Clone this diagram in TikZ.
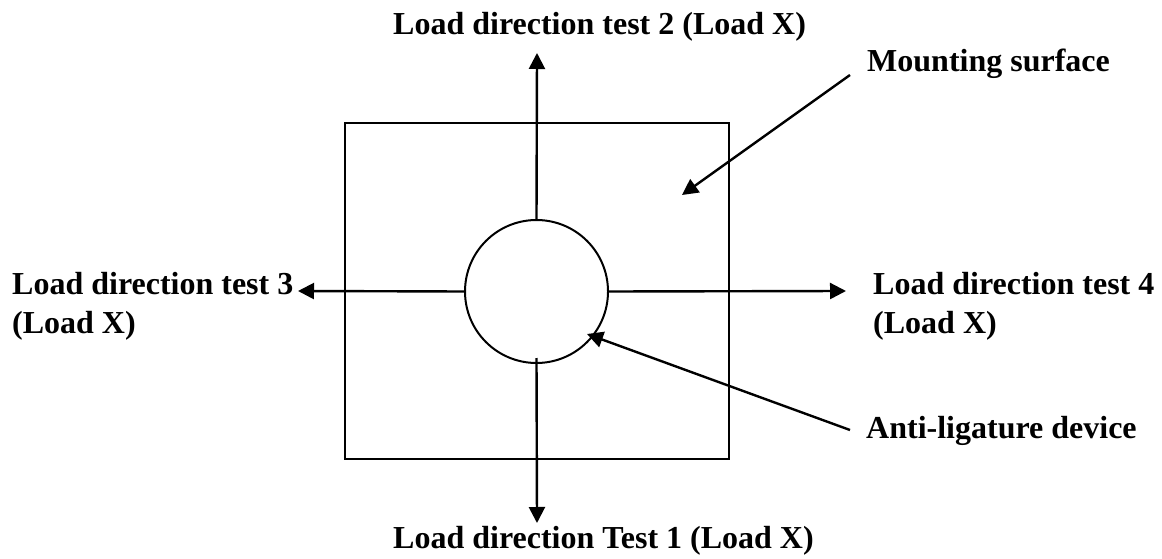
\documentclass[tikz,border=0pt]{standalone}
\usepackage{fontspec}
\setmainfont{Liberation Serif}
\usetikzlibrary{arrows.meta}
\begin{document}
\begin{tikzpicture}[x=1pt,y=-1pt,
  lbl/.style={font=\fontsize{32}{38}\selectfont\bfseries, inner sep=0pt, anchor=base west},
  arr/.style={line width=2.4pt, -{Triangle[length=16pt,width=16pt]}}]
\useasboundingbox (0,0) rectangle (1162,559);
% mounting surface
\node[draw, line width=2.4pt, minimum width=384pt, minimum height=336pt, inner sep=0pt] (surf) at (537,291) {};
% device
\node[draw, circle, line width=2pt, minimum size=143pt, inner sep=0pt] (dev) at (536.5,291.5) {};
% labels
\node[lbl] (t2) at (393,35) {Load direction test 2 (Load X)};
\node[lbl] (ms) at (867,72) {Mounting surface};
\node[lbl] (t3a) at (12,294) {Load direction test 3};
\node[lbl] (t3b) at (12,333) {(Load X)};
\node[lbl] (t4a) at (873,294) {Load direction test 4};
\node[lbl] (t4b) at (873,333) {(Load X)};
\node[lbl] (ad) at (866,438) {Anti-ligature device};
\node[lbl] (t1) at (393,548) {Load direction Test 1 (Load X)};
% arrow ends
\coordinate (up) at (537,53);
\coordinate (down) at (537,523);
\coordinate (left) at (298,291);
\coordinate (right) at (846,291);
\coordinate (msS) at (850,75);
\coordinate (msE) at (682,195);
\coordinate (adS) at (850,430);
\coordinate (adE) at (587,334);
\draw[arr] (dev.north) -- (up);
\draw[arr] ([yshift=6pt]dev.south) -- (down);
\draw[arr] (dev.west) -- (left);
\draw[arr] (dev.east) -- (right);
\draw[arr] (msS) -- (msE);
\draw[arr] (adS) -- (adE);
\end{tikzpicture}
\end{document}
